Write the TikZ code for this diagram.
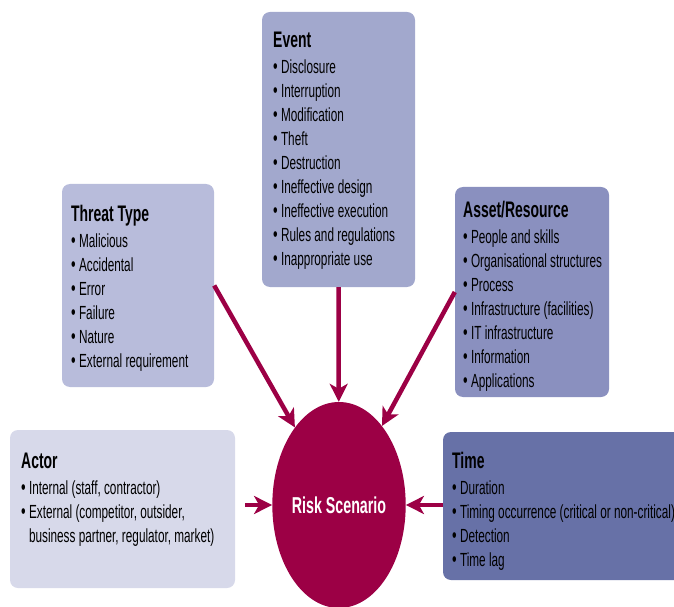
\documentclass[tikz,border=0pt]{standalone}
\usepackage{fontspec}
\setmainfont{Liberation Sans}[FakeStretch=0.62]
\usepackage{xcolor}
\usetikzlibrary{arrows.meta}
\usetikzlibrary{shapes}

\definecolor{eventcol}{HTML}{A2A8CD}
\definecolor{threatcol}{HTML}{B8BCDB}
\definecolor{assetcol}{HTML}{8A90BF}
\definecolor{actorcol}{HTML}{D7D9EA}
\definecolor{timecol}{HTML}{6771A7}
\definecolor{riskcol}{HTML}{9C0045}

\newcommand{\hd}[1]{{\bfseries\fontsize{22.5}{24}\selectfont #1}\\[2pt]}
\newcommand{\itm}{{\fontsize{21}{24}\selectfont\textbullet}\ }

\begin{document}
\begin{tikzpicture}[x=1pt, y=1pt,
		panel/.style={rounded corners=8pt, inner sep=0pt},
		items/.style={anchor=north west, align=left, inner sep=0pt, font=\fontsize{19}{24}\selectfont},
		feed/.style={draw=riskcol, line width=4.5pt, -{Stealth[length=18pt, width=18pt, inset=5pt]}}]
		\clip (0,0) rectangle (674,606);
		%
		%Event
		\node[panel, fill=eventcol, minimum width=153pt, minimum height=275pt] (event) at (338.5, 456.5) {};
		\node[items] (eventtxt) at (273, 574) {\hd{Event} \itm Disclosure\\ \itm Interruption\\ \itm Modification\\
			\itm Theft\\ \itm Destruction\\ \itm Ineffective design\\ \itm Ineffective execution\\
			\itm Rules and regulations\\ \itm Inappropriate use};
		%
		%Threat Type
		\node[panel, fill=threatcol, minimum width=152pt, minimum height=203pt] (threat) at (138, 320.5) {};
		\node[items] (threattxt) at (71, 401) {\hd{Threat Type} \itm Malicious\\ \itm Accidental\\ \itm Error\\
			\itm Failure\\ \itm Nature\\ \itm External requirement};
		%
		%Asset/Resource
		\node[panel, fill=assetcol, minimum width=154pt, minimum height=210pt] (asset) at (532, 314) {};
		\node[items] (assettxt) at (463, 405) {\hd{Asset/Resource} \itm People and skills\\ \itm Organisational structures\\
			\itm Process\\ \itm Infrastructure (facilities)\\ \itm IT infrastructure\\ \itm Information\\ \itm Applications};
		%
		%Actor
		\node[panel, fill=actorcol, minimum width=225pt, minimum height=158pt] (actor) at (122.5, 97) {};
		\node[items] (actortxt) at (21, 153) {\hd{Actor} \itm Internal (staff, contractor)\\ \itm External (competitor, outsider,\\
			\phantom{\itm}business partner, regulator, market)};
		%
		%Time
		\node[panel, fill=timecol, minimum width=260pt, minimum height=148pt] (time) at (573, 100) {};
		\node[items] (timetxt) at (452, 154) {\hd{Time} \itm Duration\\ \itm Timing occurrence (critical or non-critical)\\
			\itm Detection\\ \itm Time lag};
		%
		%Risk Scenario
		\node[ellipse, fill=riskcol, minimum width=118pt, minimum height=206pt, inner sep=0pt, text=white,
			font=\bfseries\fontsize{23}{24}\selectfont] (risk) at (339, 101) {Risk Scenario};
		%
		%Arrow Event-Risk
		\draw[feed] (event.south) -- (risk);
		%
		%Arrow Threat-Risk
		\draw[feed] (threat.east) -- (risk);
		%
		%Arrow Asset-Risk
		\draw[feed] (asset.west) -- (risk);
		%
		%Arrow Actor-Risk
		\draw[feed, shorten <=10pt] (actor.east |- risk) -- (risk);
		%
		%Arrow Time-Risk
		\draw[feed] (time.west |- risk) -- (risk);
	\end{tikzpicture}
\end{document}
